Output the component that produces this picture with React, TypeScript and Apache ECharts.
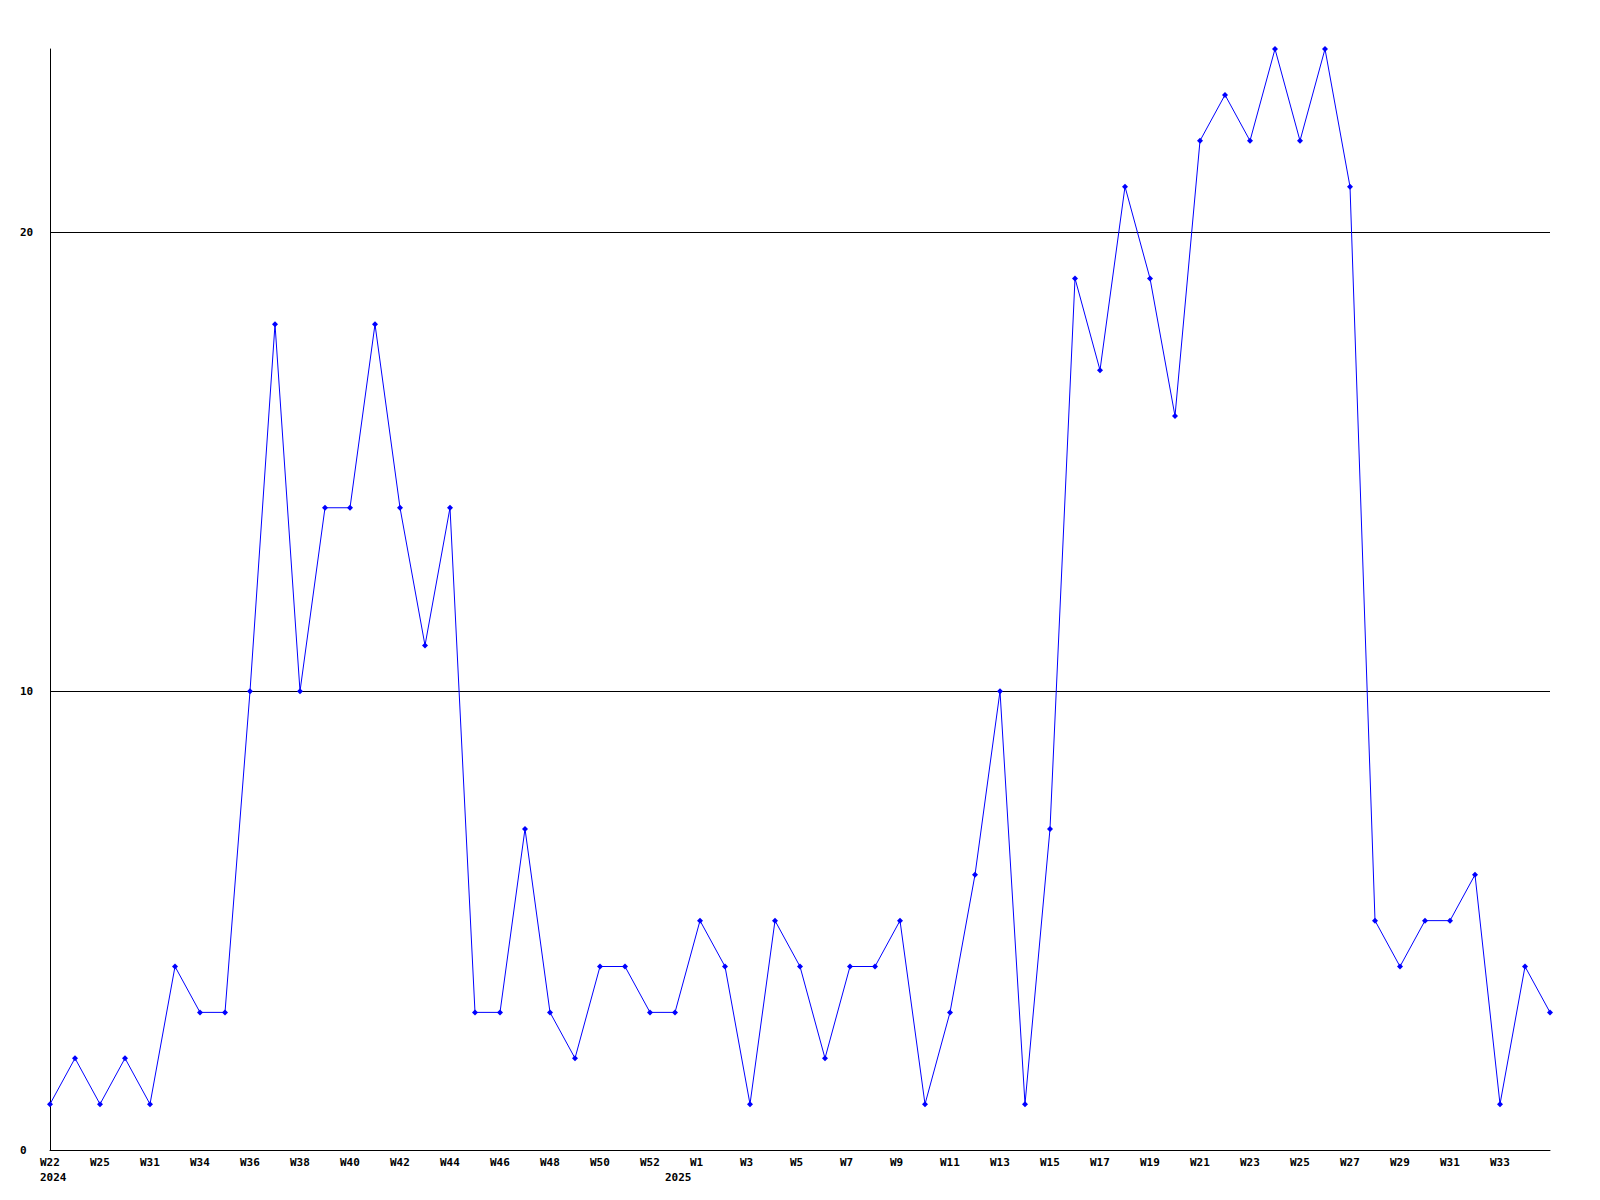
import React, { useEffect, useRef } from "react";
import * as echarts from "echarts";

const weeks = [
  "W22", "W23", "W25", "W28", "W31", "W32", "W34", "W35", "W36", "W37",
  "W38", "W39", "W40", "W41", "W42", "W43", "W44", "W45", "W46", "W47",
  "W48", "W49", "W50", "W51", "W52", "W1", "W1", "W2", "W3", "W4",
  "W5", "W6", "W7", "W8", "W9", "W10", "W11", "W12", "W13", "W14",
  "W15", "W16", "W17", "W18", "W19", "W20", "W21", "W22", "W23", "W24",
  "W25", "W26", "W27", "W28", "W29", "W30", "W31", "W32", "W33", "W34",
  "W35",
];

const years: Record<number, string> = { 0: "2024", 25: "2025" };

const counts = [
  1, 2, 1, 2, 1, 4, 3, 3, 10, 18,
  10, 14, 14, 18, 14, 11, 14, 3, 3, 7,
  3, 2, 4, 4, 3, 3, 5, 4, 1, 5,
  4, 2, 4, 4, 5, 1, 3, 6, 10, 1,
  7, 19, 17, 21, 19, 16, 22, 23, 22, 24,
  22, 24, 21, 5, 4, 5, 5, 6, 1, 4,
  3,
];

const yTicks = { min: 0, max: 24, interval: 10 };

export default function App() {
  const ref = useRef<HTMLDivElement>(null);

  useEffect(() => {
    if (!ref.current) return;
    const chart = echarts.init(ref.current, undefined, { renderer: "svg" });
    const font = "'DejaVu Sans Mono', monospace";
    const lastIdx = weeks.length - 1;
    chart.setOption({
      animation: false,
      backgroundColor: "#ffffff",
      grid: { left: 50, right: 50, top: 49, bottom: 50, containLabel: false },
      xAxis: {
        type: "category",
        data: weeks,
        boundaryGap: false,
        axisLine: { show: true, lineStyle: { color: "#000", width: 1 } },
        axisTick: { show: false },
        splitLine: { show: false },
        axisLabel: {
          interval: (i: number) => (i % 2 === 0 && i < lastIdx) || i === 25,
          formatter: (v: string, i: number) => {
            const y = years[i];
            if (i % 2 !== 0) return y ? "\n" + y : "";
            return y ? v + "\n" + y : v;
          },
          align: "left",
          padding: [0, 0, 0, -10],
          margin: 5,
          lineHeight: 15,
          color: "#000",
          fontFamily: font,
          fontWeight: "bold",
          fontSize: 11,
          hideOverlap: false,
        },
      },
      yAxis: {
        type: "value",
        min: yTicks.min,
        max: yTicks.max,
        interval: yTicks.interval,
        axisLine: { show: true, lineStyle: { color: "#000", width: 1 } },
        axisTick: { show: false },
        splitLine: {
          show: true,
          showMinLine: false,
          showMaxLine: false,
          lineStyle: { color: "#000", width: 1 },
        },
        axisLabel: {
          align: "left",
          margin: 30,
          showMaxLabel: false,
          color: "#000",
          fontFamily: font,
          fontWeight: "bold",
          fontSize: 11,
        },
      },
      series: [
        {
          type: "line",
          data: counts,
          symbol: "diamond",
          symbolSize: 6,
          showSymbol: true,
          lineStyle: { color: "#0000ff", width: 1 },
          itemStyle: { color: "#0000ff" },
          emphasis: { disabled: true },
        },
      ],
    });
    return () => chart.dispose();
  }, []);

  return (
    <div
      ref={ref}
      style={{ position: "fixed", left: 0, top: 0, width: 1600, height: 1200, background: "#fff" }}
    />
  );
}
